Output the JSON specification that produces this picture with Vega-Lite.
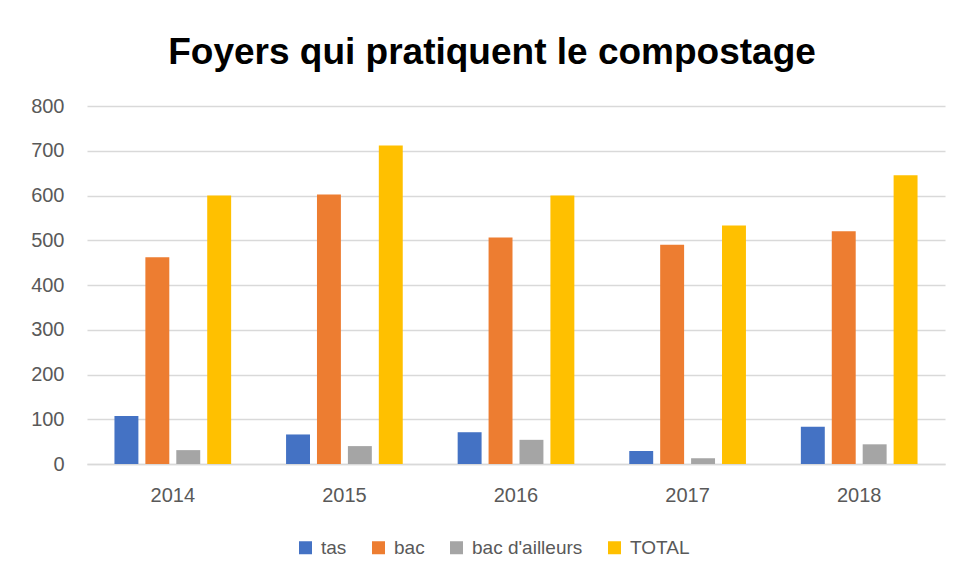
{
  "$schema": "https://vega.github.io/schema/vega-lite/v6.json",
  "width": 858,
  "height": 358,
  "autosize": "none",
  "padding": {"left": 87, "top": 106, "right": 21, "bottom": 116},
  "background": "white",
  "title": {
    "text": "Foyers qui pratiquent le compostage",
    "font": "Liberation Sans",
    "fontSize": 37,
    "fontWeight": "bold",
    "color": "#000000",
    "anchor": "middle",
    "offset": 24,
    "dx": -24
  },
  "data": {
    "values": [
      {"annee": "2014", "serie": "tas", "valeur": 107},
      {"annee": "2014", "serie": "bac", "valeur": 462},
      {"annee": "2014", "serie": "bac d'ailleurs", "valeur": 31},
      {"annee": "2014", "serie": "TOTAL", "valeur": 600},
      {"annee": "2015", "serie": "tas", "valeur": 66},
      {"annee": "2015", "serie": "bac", "valeur": 602},
      {"annee": "2015", "serie": "bac d'ailleurs", "valeur": 40},
      {"annee": "2015", "serie": "TOTAL", "valeur": 712},
      {"annee": "2016", "serie": "tas", "valeur": 71},
      {"annee": "2016", "serie": "bac", "valeur": 506},
      {"annee": "2016", "serie": "bac d'ailleurs", "valeur": 54},
      {"annee": "2016", "serie": "TOTAL", "valeur": 600},
      {"annee": "2017", "serie": "tas", "valeur": 29},
      {"annee": "2017", "serie": "bac", "valeur": 490},
      {"annee": "2017", "serie": "bac d'ailleurs", "valeur": 13},
      {"annee": "2017", "serie": "TOTAL", "valeur": 533},
      {"annee": "2018", "serie": "tas", "valeur": 83},
      {"annee": "2018", "serie": "bac", "valeur": 520},
      {"annee": "2018", "serie": "bac d'ailleurs", "valeur": 44},
      {"annee": "2018", "serie": "TOTAL", "valeur": 645}
    ]
  },
  "mark": {"type": "bar"},
  "encoding": {
    "x": {
      "field": "annee",
      "type": "nominal",
      "scale": {"paddingInner": 0.32, "paddingOuter": 0.16},
      "axis": {
        "title": null,
        "labelAngle": 0,
        "labelFont": "Liberation Sans",
        "labelFontSize": 20,
        "labelColor": "#595959",
        "labelPadding": 21,
        "ticks": false,
        "domainColor": "#D9D9D9",
        "domainWidth": 1.5
      }
    },
    "xOffset": {
      "field": "serie",
      "type": "nominal",
      "sort": ["tas", "bac", "bac d'ailleurs", "TOTAL"],
      "scale": {"paddingInner": 0.226, "paddingOuter": 0}
    },
    "y": {
      "field": "valeur",
      "type": "quantitative",
      "scale": {"domain": [0, 800], "nice": false},
      "axis": {
        "title": null,
        "values": [0, 100, 200, 300, 400, 500, 600, 700, 800],
        "labelFont": "Liberation Sans",
        "labelFontSize": 20,
        "labelColor": "#595959",
        "labelPadding": 23,
        "ticks": false,
        "domain": false,
        "grid": true,
        "gridColor": "#D9D9D9",
        "gridWidth": 1.5
      }
    },
    "color": {
      "field": "serie",
      "type": "nominal",
      "sort": ["tas", "bac", "bac d'ailleurs", "TOTAL"],
      "scale": {
        "domain": ["tas", "bac", "bac d'ailleurs", "TOTAL"],
        "range": ["#4472C4", "#ED7D31", "#A5A5A5", "#FFC000"]
      },
      "legend": {
        "title": null,
        "orient": "none",
        "direction": "horizontal",
        "legendX": 209,
        "legendY": 432,
        "symbolType": "square",
        "symbolSize": 169,
        "symbolStrokeWidth": 0,
        "labelFont": "Liberation Sans",
        "labelFontSize": 19,
        "labelColor": "#595959",
        "labelOffset": 6,
        "columnPadding": 22
      }
    }
  },
  "config": {
    "view": {"stroke": null}
  }
}
